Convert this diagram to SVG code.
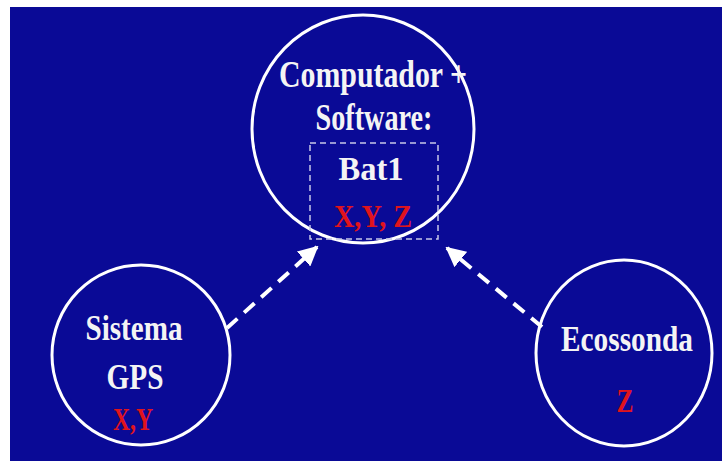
<svg xmlns="http://www.w3.org/2000/svg" width="722" height="461" viewBox="0 0 722 461">
<style>
.node{fill:none;stroke:#ffffff;stroke-width:3}
.t{font-family:"Liberation Serif","Times New Roman",serif;font-weight:bold;fill:#f4f4f4;text-anchor:middle}
.r{font-family:"Liberation Serif","Times New Roman",serif;font-weight:bold;fill:#e0141c;text-anchor:middle}
.conn{stroke:#ffffff;stroke-width:4;stroke-dasharray:14 9;fill:none}
</style>
<defs>
<marker id="ah" viewBox="0 0 10 10" refX="9" refY="5" markerWidth="5" markerHeight="5" orient="auto" markerUnits="strokeWidth">
<path d="M0,0 L10,5 L0,10 z" fill="#ffffff"/>
</marker>
</defs>
<rect x="0" y="0" width="722" height="461" fill="#ffffff"/>
<rect x="10" y="7" width="712" height="454" fill="#0a0a96"/>
<g id="computador">
<ellipse class="node" cx="363" cy="129" rx="111" ry="114"/>
<rect x="310" y="143" width="128" height="96" fill="none" stroke="#c8c8e8" stroke-width="1.5" stroke-dasharray="6 4"/>
<text class="t" x="373" y="87" font-size="38" textLength="188" lengthAdjust="spacingAndGlyphs">Computador +</text>
<text class="t" x="374" y="130" font-size="38" textLength="117" lengthAdjust="spacingAndGlyphs">Software:</text>
<text class="t" x="371" y="180" font-size="33" textLength="65" lengthAdjust="spacingAndGlyphs">Bat1</text>
<text class="r" x="373" y="227" font-size="32" textLength="78" lengthAdjust="spacingAndGlyphs">X,Y, Z</text>
</g>
<g id="gps">
<ellipse class="node" cx="141" cy="355" rx="89" ry="90"/>
<text class="t" x="134" y="340" font-size="35" textLength="97" lengthAdjust="spacingAndGlyphs">Sistema</text>
<text class="t" x="135" y="389" font-size="35" textLength="57" lengthAdjust="spacingAndGlyphs">GPS</text>
<text class="r" x="133" y="430" font-size="32" textLength="40" lengthAdjust="spacingAndGlyphs">X,Y</text>
</g>
<g id="ecossonda">
<ellipse class="node" cx="624" cy="353" rx="88" ry="93"/>
<text class="t" x="627" y="351" font-size="36" textLength="132" lengthAdjust="spacingAndGlyphs">Ecossonda</text>
<text class="r" x="625" y="412" font-size="34" textLength="17" lengthAdjust="spacingAndGlyphs">Z</text>
</g>
<g id="connectors">
<path class="conn" d="M227,328 L317,247" marker-end="url(#ah)"/>
<path class="conn" d="M542,327 L447,248" marker-end="url(#ah)"/>
</g>
</svg>
